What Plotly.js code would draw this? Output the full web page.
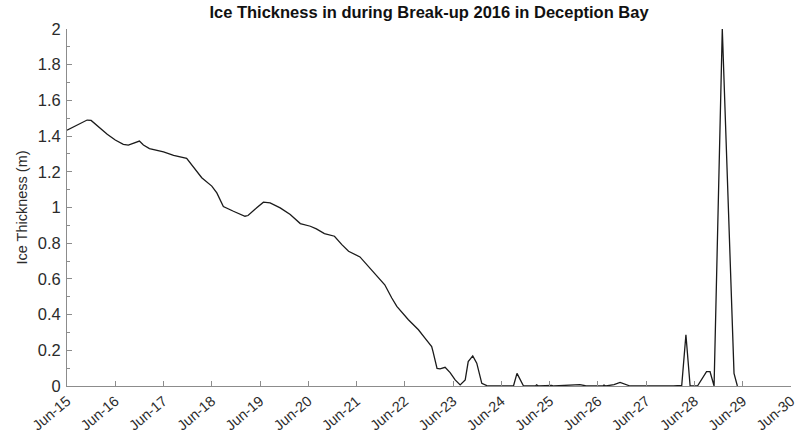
<!DOCTYPE html>
<html>
<head>
<meta charset="utf-8">
<script src="https://cdn.plot.ly/plotly-3.0.1.min.js"></script>
<style>
  html, body { margin: 0; padding: 0; background: #fff; }
  #chart { width: 803px; height: 435px; }
</style>
</head>
<body>
<div id="chart"></div>
<script>
// Sampled ice thickness during the 2016 break-up, Deception Bay
const times = [
  '2016-06-15 00:00', '2016-06-15 04:00', '2016-06-15 10:00', '2016-06-15 12:00',
  '2016-06-15 15:30', '2016-06-15 20:00', '2016-06-16 00:00', '2016-06-16 04:00',
  '2016-06-16 06:30', '2016-06-16 10:00', '2016-06-16 12:00', '2016-06-16 14:00',
  '2016-06-16 17:00', '2016-06-17 00:00', '2016-06-17 05:00', '2016-06-17 11:30',
  '2016-06-17 16:30', '2016-06-17 19:00', '2016-06-18 00:00', '2016-06-18 02:30',
  '2016-06-18 05:45', '2016-06-18 07:30', '2016-06-18 10:45', '2016-06-18 16:30',
  '2016-06-18 18:00', '2016-06-18 22:20', '2016-06-19 01:40', '2016-06-19 05:00',
  '2016-06-19 10:00', '2016-06-19 15:00', '2016-06-19 20:00', '2016-06-20 01:00',
  '2016-06-20 04:00', '2016-06-20 08:00', '2016-06-20 13:00', '2016-06-20 16:40',
  '2016-06-20 20:00', '2016-06-21 01:40', '2016-06-21 05:00', '2016-06-21 09:00',
  '2016-06-21 14:00', '2016-06-21 17:30', '2016-06-21 20:00', '2016-06-22 01:45',
  '2016-06-22 06:45', '2016-06-22 10:00', '2016-06-22 13:20', '2016-06-22 14:00',
  '2016-06-22 16:00', '2016-06-22 17:30', '2016-06-22 20:00', '2016-06-22 22:30',
  '2016-06-23 01:00', '2016-06-23 03:30', '2016-06-23 06:00', '2016-06-23 07:30',
  '2016-06-23 09:45', '2016-06-23 11:45', '2016-06-23 14:15', '2016-06-23 16:45',
  '2016-06-24 06:00', '2016-06-24 07:45', '2016-06-24 11:00', '2016-06-24 17:00',
  '2016-06-24 17:30', '2016-06-24 18:30', '2016-06-24 23:00', '2016-06-25 01:00',
  '2016-06-25 02:00', '2016-06-25 13:00', '2016-06-25 15:00', '2016-06-25 17:00',
  '2016-06-25 18:00', '2016-06-26 02:30', '2016-06-26 03:00', '2016-06-26 04:00',
  '2016-06-26 08:00', '2016-06-26 11:00', '2016-06-26 14:30', '2016-06-26 16:00',
  '2016-06-27 13:30', '2016-06-27 17:40', '2016-06-27 19:45', '2016-06-27 21:50',
  '2016-06-28 01:30', '2016-06-28 06:00', '2016-06-28 07:45', '2016-06-28 09:45',
  '2016-06-28 13:50', '2016-06-28 19:40', '2016-06-28 21:20'
];

const thickness = [
  1.433, 1.457, 1.490, 1.488,
  1.453, 1.410, 1.378, 1.354,
  1.350, 1.363, 1.372, 1.350,
  1.330, 1.311, 1.292, 1.275,
  1.204, 1.167, 1.120, 1.082,
  1.005, 0.995, 0.979, 0.951,
  0.955, 0.998, 1.030, 1.026,
  0.998, 0.961, 0.910, 0.895,
  0.880, 0.854, 0.839, 0.792,
  0.755, 0.723, 0.680, 0.633,
  0.567, 0.493, 0.446, 0.371,
  0.315, 0.268, 0.221, 0.193,
  0.099, 0.096, 0.105, 0.075,
  0.034, 0.006, 0.034, 0.137,
  0.169, 0.128, 0.015, 0.002,
  0.000, 0.071, 0.000, 0.000,
  0.006, 0.000, 0.004, 0.004,
  0.000, 0.004, 0.008, 0.003,
  0.000, 0.000, 0.005, 0.000,
  0.008, 0.020, 0.008, 0.000,
  0.000, 0.004, 0.287, 0.000,
  0.000, 0.080, 0.080, 0.000,
  2.000, 0.071, 0.000
];

const chartTitle = 'Ice Thickness in during Break-up 2016 in Deception Bay';
const yLabel = 'Ice Thickness (m)';
const xStart = '2016-06-15';
const xEnd = '2016-06-30';

const axisColor = '#8c8c8c';
const textColor = '#2b2b2b';

const trace = {
  x: times,
  y: thickness,
  type: 'scatter',
  mode: 'lines',
  line: { color: '#1a1a1a', width: 1.3 },
  hoverinfo: 'x+y'
};

const layout = {
  width: 803,
  height: 435,
  margin: { l: 67, r: 12, t: 29, b: 49 },
  paper_bgcolor: '#ffffff',
  plot_bgcolor: '#ffffff',
  showlegend: false,
  font: { family: 'Liberation Sans, Arial, sans-serif', color: textColor },
  title: {
    text: '<b>' + chartTitle + '</b>',
    font: { size: 16.5, color: '#111' },
    x: 0.5,
    xref: 'paper',
    xanchor: 'center',
    y: 1,
    yref: 'container',
    yanchor: 'top',
    pad: { t: 6 }
  },
  xaxis: {
    type: 'date',
    range: [xStart, xEnd],
    tickformat: '%b-%d',
    dtick: 86400000,
    tick0: xStart,
    tickangle: -40,
    ticks: 'inside',
    ticklen: 5,
    tickcolor: axisColor,
    showline: true,
    linecolor: axisColor,
    linewidth: 1,
    showgrid: false,
    zeroline: false,
    ticklabelstandoff: 0,
    tickfont: { size: 14.5, color: textColor }
  },
  yaxis: {
    range: [0, 2],
    dtick: 0.2,
    tick0: 0,
    ticks: 'inside',
    ticklen: 5,
    tickcolor: axisColor,
    showline: true,
    linecolor: axisColor,
    linewidth: 1,
    showgrid: false,
    zeroline: false,
    ticklabelstandoff: 2,
    tickfont: { size: 16.5, color: textColor },
    minor: { ticks: 'inside', dtick: 0.1, ticklen: 3, tickcolor: axisColor, showgrid: false },
    title: { text: yLabel, font: { size: 14.5, color: textColor }, standoff: 6 }
  }
};

Plotly.newPlot('chart', [trace], layout, { displayModeBar: false, staticPlot: true });
</script>
</body>
</html>
